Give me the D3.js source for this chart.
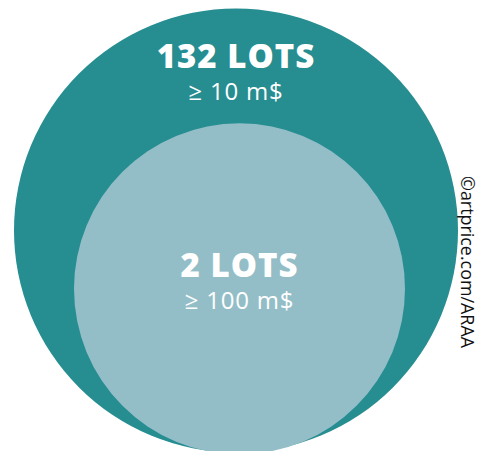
<!DOCTYPE html>
<html>
<head>
<meta charset="utf-8">
<script src="https://cdn.jsdelivr.net/npm/d3@7"></script>
<style>
  body { margin: 0; background: #fff; }
  svg { display: block; font-family: "Open Sans", sans-serif; }
</style>
</head>
<body>
<div id="chart"></div>
<script>
// nested tiers of lots sold
const tiers = ['10', '100'];
const lotCounts = [132, 2];
const thresholdLabels = ['≥ 10 m$', '≥ 100 m$'];
const credit = '©artprice.com/ARAA';

const width = 486;
const height = 451;

const fillColor = d3.scaleOrdinal().domain(tiers).range(['#268d91', '#93bec7']);
const radius = d3.scaleOrdinal().domain(tiers).range([222, 165.5]);
const cx = d3.scaleOrdinal().domain(tiers).range([236, 239.5]);
const cy = d3.scaleOrdinal().domain(tiers).range([230.5, 288.8]);
// label baselines inside each circle
const titleY = d3.scaleOrdinal().domain(tiers).range([68, 277]);

const svg = d3.select('#chart').append('svg')
    .attr('width', width)
    .attr('height', height);

const data = tiers.map((t, i) => ({ tier: t, lots: lotCounts[i], label: thresholdLabels[i] }));

svg.selectAll('circle')
    .data(data)
    .enter()
    .append('circle')
    .attr('cx', d => cx(d.tier))
    .attr('cy', d => cy(d.tier))
    .attr('r', d => radius(d.tier))
    .attr('fill', d => fillColor(d.tier));

const labels = svg.selectAll('.label')
    .data(data)
    .enter()
    .append('g')
    .attr('class', 'label')
    .attr('transform', d => `translate(${cx(d.tier)},${titleY(d.tier)})`);

labels.append('text')
    .attr('text-anchor', 'middle')
    .attr('fill', '#fff')
    .attr('font-size', 33)
    .attr('font-weight', 800)
    .attr('letter-spacing', 1)
    .text(d => `${d.lots} LOTS`);

labels.append('text')
    .attr('text-anchor', 'middle')
    .attr('fill', '#fff')
    .attr('font-size', 24)
    .attr('letter-spacing', 0.8)
    .attr('y', 32)
    .text(d => d.label);

svg.append('text')
    .attr('transform', 'translate(461,176) rotate(90)')
    .attr('font-size', 17.9)
    .attr('fill', '#111')
    .text(credit);
</script>
</body>
</html>
